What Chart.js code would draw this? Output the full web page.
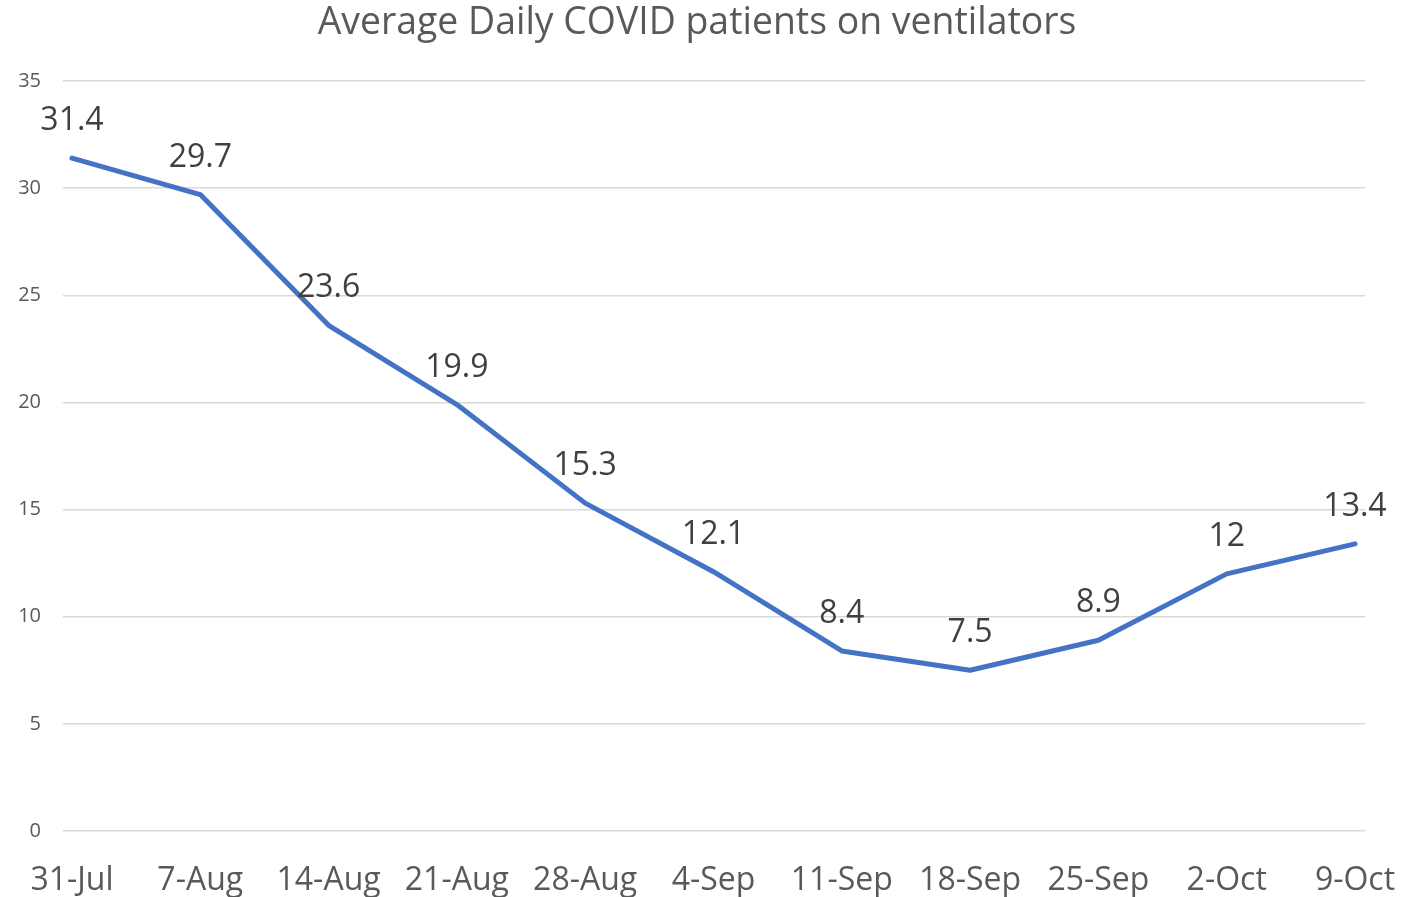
<!DOCTYPE html>
<html>
<head>
<meta charset="utf-8">
<script src="https://cdn.jsdelivr.net/npm/chart.js@4"></script>
<style>
  body { margin: 0; background: #fff; }
  #wrap { width: 1424px; height: 897px; }
</style>
</head>
<body>
<div id="wrap"><canvas id="myChart"></canvas></div>
<script>
const weeks = ["31-Jul", "7-Aug", "14-Aug", "21-Aug", "28-Aug", "4-Sep", "11-Sep", "18-Sep", "25-Sep", "2-Oct", "9-Oct"];
const ventilators = [31.4, 29.7, 23.6, 19.9, 15.3, 12.1, 8.4, 7.5, 8.9, 12, 13.4];
const yTicks = [0, 5, 10, 15, 20, 25, 30, 35];

const font = "'Open Sans', sans-serif";

// labels over each point, like the excel data labels
const pointLabels = {
    id: 'pointLabels',
    afterDatasetsDraw(chart) {
        const ctx = chart.ctx;
        const meta = chart.getDatasetMeta(0);
        ctx.save();
        ctx.font = "32px " + font;
        ctx.fillStyle = '#404040';
        ctx.textAlign = 'center';
        ctx.textBaseline = 'alphabetic';
        meta.data.forEach((pt, i) => {
            ctx.fillText(String(ventilators[i]), pt.x, pt.y - 28);
        });
        ctx.restore();
    }
};

let ctx1 = document.getElementById('myChart').getContext('2d');
let myChart = new Chart(ctx1, {
    type: 'line',
    data: {
        datasets: [{
            label: 'ventilators',
            data: ventilators.map((v, i) => ({x: i, y: v})),
            borderColor: '#4472C4',
            borderWidth: 5,
            pointRadius: 0,
            tension: 0,
            borderCapStyle: 'round',
            borderJoinStyle: 'round',
            clip: false
        }]
    },
    options: {
        responsive: true,
        maintainAspectRatio: false,
        animation: false,
        layout: { padding: { left: 0, right: 30, top: 0, bottom: 0 } },
        plugins: {
            legend: { display: false },
            tooltip: { enabled: false },
            title: {
                display: true,
                text: 'Average Daily COVID patients on ventilators',
                color: '#595959',
                font: { family: font, size: 37.4, weight: 'normal' },
                padding: { top: 1, bottom: 35.1 }
            }
        },
        scales: {
            x: {
                type: 'linear',
                min: -0.07,
                max: 10.078,
                afterBuildTicks: (s) => { s.ticks = weeks.map((w, i) => ({value: i})); },
                afterFit: (s) => { s.height = 66; s.paddingLeft = 0; s.paddingRight = 0; },
                grid: { display: false, drawTicks: false },
                border: { display: false },
                ticks: {
                    autoSkip: false,
                    maxRotation: 0,
                    padding: 31,
                    color: '#595959',
                    font: { family: font, size: 32 },
                    callback: (v) => weeks[v]
                }
            },
            y: {
                min: 0,
                max: 35,
                afterBuildTicks: (s) => { s.ticks = yTicks.map(v => ({value: v})); },
                afterFit: (s) => { s.width = 63; },
                grid: { color: '#d9d9d9', lineWidth: 1.5, drawTicks: false },
                border: { display: false },
                ticks: {
                    padding: 22,
                    color: '#595959',
                    font: { family: font, size: 20 }
                }
            },
            // empty spacer on the right so the title centres like the original
            yRight: {
                position: 'right',
                min: 0,
                max: 35,
                afterFit: (s) => { s.width = 29; },
                grid: { display: false, drawTicks: false },
                border: { display: false },
                ticks: { display: false }
            }
        }
    },
    plugins: [pointLabels]
});
</script>
</body>
</html>
